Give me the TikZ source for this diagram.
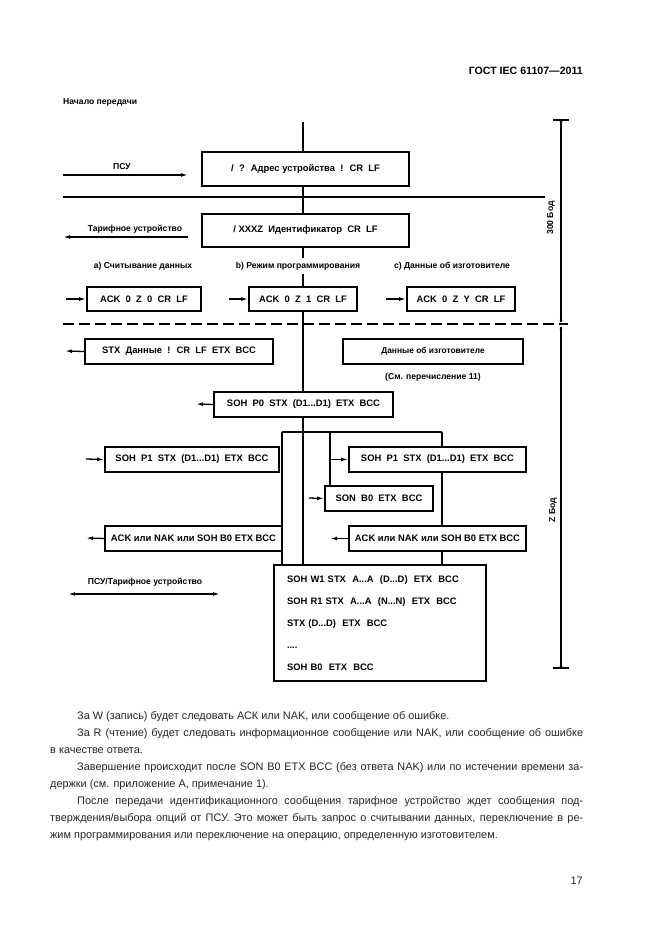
\documentclass[tikz,border=0pt]{standalone}
\usepackage{fontspec}
\setmainfont{Liberation Sans}
\usetikzlibrary{arrows.meta}
\newcommand{\mkbox}[7][sbox]{\node[#1, minimum width={#4-#2}, minimum height={#5-#3}] (#6) at ({(#2+#4)/2},{(#3+#5)/2}) {#7};}
\begin{document}
\begin{tikzpicture}[x=1pt,y=-1pt,
  sbox/.style={draw, line width=1.6pt, inner sep=0pt, font=\bfseries\fontsize{9.4}{10}\selectfont},
  bigbox/.style={draw, line width=2.2pt, inner sep=0pt, font=\bfseries\fontsize{9.4}{22}\selectfont, align=left, text width=186pt},
  ln/.style={line width=1.3pt},
  thick line/.style={line width=2pt},
  arr/.style={line width=1.3pt, -{Latex[length=7pt,width=3.8pt]}},
  darr/.style={line width=1.3pt, {Latex[length=7pt,width=3.8pt]}-{Latex[length=7pt,width=3.8pt]}},
  lbl/.style={inner sep=0pt, font=\bfseries\fontsize{8.6}{9}\selectfont},
  body/.style={inner sep=0pt, anchor=base west, text=black!85, font=\fontsize{10.9}{12}\selectfont},
  dot/.style={fill, circle, inner sep=0pt, minimum size=3pt}
]
\useasboundingbox[fill=white] (0,0) rectangle (661,935);

% header
\node[inner sep=0pt, anchor=base east, font=\bfseries\fontsize{10.6}{12}\selectfont] (hdr) at (583,74) {ГОСТ IEC 61107—2011};
\node[lbl, anchor=base west] (start) at (63,104) {Начало передачи};

% top boxes
\coordinate (ctop) at (303,122);
\mkbox[sbox]{202}{152}{409}{186}{b1}{/~ ?~ Адрес устройства~ !~ CR~ LF}
\mkbox[sbox]{202}{214}{409}{247}{b2}{/ XXXZ~ Идентификатор~ CR~ LF}

\coordinate (psuS) at (63,175);
\coordinate (psuE) at (188,175);
\draw[arr] (psuS) -- (psuE);
\node[lbl] (psu) at (122,167) {ПСУ};

\coordinate (tarS) at (188,237);
\coordinate (tarE) at (63,237);
\draw[arr] (tarS) -- (tarE);
\node[lbl] (tar) at (135,229) {Тарифное устройство};

\coordinate (solL) at (63,197);
\coordinate (solR) at (545,197);
\draw[thick line] (solL) -- (solR);

% option labels
\node[lbl] (la) at (143,266) {a) Считывание данных};
\node[lbl] (lb) at (298,266) {b) Режим программирования};
\node[lbl] (lc) at (452,266) {c) Данные об изготовителе};

% ACK row
\mkbox{87}{287}{201}{311}{ackA}{ACK~ 0~ Z~ 0~ CR~ LF}
\mkbox{249}{287}{357}{311}{ackB}{ACK~ 0~ Z~ 1~ CR~ LF}
\mkbox{407}{287}{515}{311}{ackC}{ACK~ 0~ Z~ Y~ CR~ LF}
\coordinate (aA) at (66,299);
\coordinate (aB) at (229,299);
\coordinate (aC) at (386,299);
\draw[arr] (aA) -- (ackA.west);
\draw[arr] (aB) -- (ackB.west);
\draw[arr] (aC) -- (ackC.west);

% dashed separator
\coordinate (dL) at (63,324);
\coordinate (dR) at (568,324);
\draw[line width=1.4pt, dash pattern=on 11pt off 5pt] (dL) -- (dR);

% second section
\mkbox{85}{339}{273}{364}{stx}{STX~ Данные~ !~ CR~ LF~ ETX~ BCC}
\mkbox{343}{339}{523}{364}{mfr}{\fontsize{8.4}{9}\selectfont Данные об изготовителе}
\node[lbl] (see) at (433,377) {(См. перечисление 11)};
\mkbox{214}{392}{393}{417}{p0}{SOH~ P0~ STX~ (D1...D1)~ ETX~ BCC}
\coordinate (aStx) at (65,351);
\coordinate (aP0) at (196,404);
\draw[arr] (stx.west) -- (aStx);
\draw[arr] (p0.west) -- (aP0);

% branches
\coordinate (brL) at (282,432);
\coordinate (brM) at (330,432);
\coordinate (brR) at (442,432);

\mkbox{105}{447}{279}{472}{p1l}{SOH~ P1~ STX~ (D1...D1)~ ETX~ BCC}
\mkbox{349}{447}{526}{472}{p1r}{SOH~ P1~ STX~ (D1...D1)~ ETX~ BCC}
\mkbox{325}{486}{433}{511}{sonb}{SON~ B0~ ETX~ BCC}
\mkbox{105}{526}{282}{551}{ackl}{ACK или NAK или SOH B0 ETX BCC}
\mkbox{349}{526}{526}{551}{ackr}{ACK или NAK или SOH B0 ETX BCC}

\node[bigbox, minimum width=212pt, minimum height=116pt] (big) at (380,623) {%
SOH W1 STX~ A...A~ (D...D)~ ETX~ BCC\\
SOH R1 STX~ A...A~ (N...N)~ ETX~ BCC\\
STX (D...D)~ ETX~ BCC\\
....\\
SOH B0~ ETX~ BCC};

\coordinate (aP1l) at (86,459);
\coordinate (aSon) at (309,498);
\coordinate (aAckl) at (86,538);
\draw[arr] (aP1l) -- (p1l.west);
\draw[arr] (p1r.west -| brM) -- (p1r.west);
\draw[arr] (aSon) -- (sonb.west);
\draw[arr] (ackl.west) -- (aAckl);
\draw[arr] (ackr.west) -- (ackr.west -| brM);

% central line
\draw[ln] (ctop) -- (b1.north -| ctop);
\draw[ln] (b1.south -| ctop) -- (b2.north -| ctop);
\draw[ln] (b2.south -| ctop) -- ([yshift=4pt]lb.north -| ctop);
\draw[ln] ([yshift=-4pt]lb.south -| ctop) -- (ackB.north -| ctop);
\draw[ln] (ackB.south -| ctop) -- (p0.north -| ctop);
\draw[ln] (p0.south -| ctop) -- (big.north -| ctop);

% branch lines
\draw[ln] (brL) -- (brR);
\draw[ln] (brL) -- (big.north -| brL);
\draw[ln] (brM) -- (sonb.north -| brM);
\draw[ln] (brR) -- (p1r.north -| brR);
\draw[ln] (p1r.south -| brR) -- (ackr.north -| brR);
\draw[ln] (ackr.south -| brR) -- (big.north -| brR);

% PSU / tariff device double arrow
\coordinate (dbL) at (68,594);
\coordinate (dbR) at (220,594);
\draw[darr] (dbL) -- (dbR);
\node[lbl] (dbl) at (145,582) {ПСУ/Тарифное устройство};

% dimension lines
\coordinate (m1) at (561,120);
\coordinate (m2) at (561,322);
\coordinate (m3) at (561,327);
\coordinate (m4) at (561,668);
\draw[ln] (m1) -- (m2);
\draw[ln] (m3) -- (m4);
\draw[ln] ([xshift=-8pt]m1) -- ([xshift=8pt]m1);
\draw[ln] ([xshift=-8pt]m4) -- ([xshift=8pt]m4);
\node[dot] at ([yshift=-2pt]m1) {};
\node[dot] at ([yshift=2pt]m2) {};
\node[dot] at ([yshift=-2pt]m3) {};
\node[dot] at ([yshift=2pt]m4) {};
\node[lbl, rotate=90] (d300) at (551,218) {300 Бод};
\node[lbl, rotate=90] (dz) at (553,510) {Z Бод};

% body text
\node[body] (t1) at (50,719) {\hspace*{27pt}За W (запись) будет следовать АСК или NAK, или сообщение об ошибке.};
\node[body] (t2) at (50,736) {\makebox[533pt][s]{\hspace*{27pt}За R (чтение) будет следовать информационное сообщение или NAK, или сообщение об ошибке}};
\node[body] (t3) at (50,753) {в качестве ответа.};
\node[body] (t4) at (50,770) {\makebox[533pt][s]{\hspace*{27pt}Завершение происходит после SON B0 ETX BCC (без ответа NAK) или по истечении времени за-}};
\node[body] (t5) at (50,787) {держки (см. приложение А, примечание 1).};
\node[body] (t6) at (50,804) {\makebox[533pt][s]{\hspace*{27pt}После передачи идентификационного сообщения тарифное устройство ждет сообщения под-}};
\node[body] (t7) at (50,821) {\makebox[533pt][s]{тверждения/выбора опций от ПСУ. Это может быть запрос о считывании данных, переключение в ре-}};
\node[body] (t8) at (50,838) {жим программирования или переключение на операцию, определенную изготовителем.};
\node[inner sep=0pt, anchor=base east, text=black!85, font=\fontsize{10.9}{12}\selectfont] (pg) at (583,884) {17};
\end{tikzpicture}
\end{document}
